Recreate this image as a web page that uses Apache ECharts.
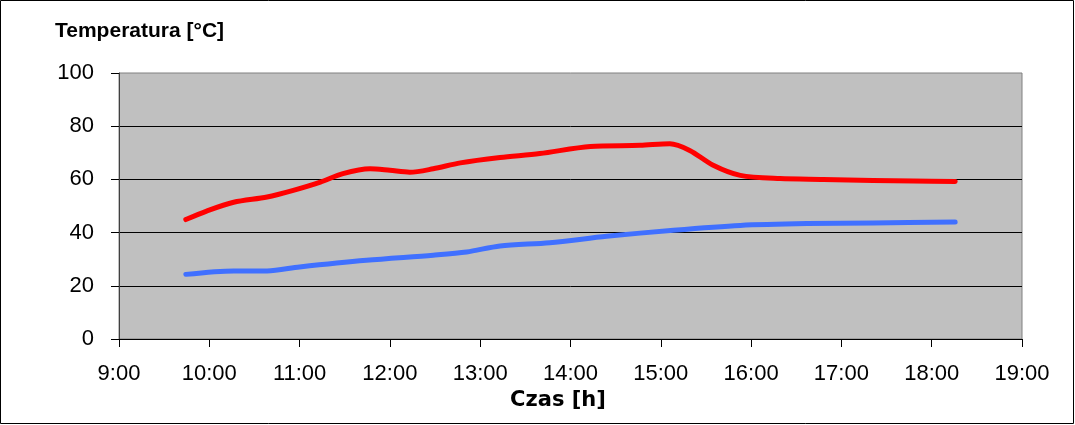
<!DOCTYPE html>
<html>
<head>
<meta charset="utf-8">
<script src="https://cdn.jsdelivr.net/npm/echarts@6/dist/echarts.min.js"></script>
<style>
html,body{margin:0;padding:0;background:#fff;}
#chart{width:1075px;height:425px;}
</style>
</head>
<body>
<div id="chart"></div>
<script>
// Time in decimal hours, temperature in °C
const redTime = [9.74, 9.97, 10.27, 10.64, 10.93, 11.23, 11.48, 11.78, 12.0, 12.22, 12.48, 12.78, 13.22, 13.66, 14.22, 14.77, 15.10, 15.32, 15.58, 15.88, 16.32, 16.8, 17.35, 17.8, 18.26];
const redVal  = [44.9, 48.1, 51.4, 53.4, 55.9, 59.0, 62.2, 64.0, 63.4, 62.7, 64.0, 66.2, 68.2, 69.7, 72.4, 72.8, 73.4, 70.9, 65.3, 61.5, 60.3, 60.0, 59.6, 59.4, 59.2];
const blueTime = [9.74, 10.27, 10.64, 11.0, 11.74, 12.48, 12.85, 13.22, 13.77, 14.40, 15.14, 15.88, 16.62, 17.35, 18.26];
const blueVal  = [24.3, 25.6, 25.6, 27.1, 29.6, 31.5, 32.7, 35.0, 36.2, 38.6, 40.9, 42.7, 43.4, 43.6, 44.0];
const xMin = 9, xMax = 19, xStep = 1;
const yMin = 0, yMax = 100, yStep = 20;
const yTitle = 'Temperatura [°C]';
const xTitle = 'Czas [h]';

const FONT = "'Liberation Sans', Arial, sans-serif";
const chart = echarts.init(document.getElementById('chart'), null, {renderer: 'canvas'});
chart.setOption({
  animation: false,
  backgroundColor: '#ffffff',
  title: {
    text: yTitle, left: 55, top: 21, padding: 0,
    textStyle: {fontFamily: FONT, fontSize: 21, fontWeight: 'bold', color: '#000'}
  },
  graphic: [{
    type: 'rect', shape: {x: 0.5, y: 0.5, width: 1073, height: 423},
    style: {fill: 'none', stroke: '#000', lineWidth: 1}, z: 100
  }],
  grid: {
    left: 119, right: 53, top: 73, bottom: 86,
    show: true, backgroundColor: '#C0C0C0', borderColor: '#808080', borderWidth: 1
  },
  xAxis: {
    type: 'value', min: xMin, max: xMax, interval: xStep,
    name: xTitle, nameLocation: 'middle', nameGap: 50,
    nameTextStyle: {fontFamily: "'DejaVu Sans', sans-serif", fontSize: 21, fontWeight: 'bold', color: '#000', padding: [0, 25, 0, 0]},
    axisLine: {show: true, onZero: false, lineStyle: {color: '#000', width: 1}},
    axisTick: {show: true, inside: false, length: 8, lineStyle: {color: '#000'}},
    axisLabel: {margin: 24, fontFamily: FONT, fontSize: 22, color: '#000',
      formatter: v => Math.round(v) + ':00'},
    splitLine: {show: false}
  },
  yAxis: {
    type: 'value', min: yMin, max: yMax, interval: yStep,
    axisLine: {show: true, lineStyle: {color: '#404040', width: 1}},
    axisTick: {show: true, inside: false, length: 8, lineStyle: {color: '#000'}},
    axisLabel: {margin: 25, fontFamily: FONT, fontSize: 22, color: '#000'},
    splitLine: {show: true, showMinLine: false, showMaxLine: false, lineStyle: {color: '#000', width: 1}}
  },
  series: [
    {
      type: 'line', smooth: 0.3, symbol: 'none',
      data: redTime.map((t, i) => [t, redVal[i]]),
      lineStyle: {color: '#FF0000', width: 5, cap: 'round', join: 'round'}
    },
    {
      type: 'line', smooth: 0.3, symbol: 'none',
      data: blueTime.map((t, i) => [t, blueVal[i]]),
      lineStyle: {color: '#4070FF', width: 5, cap: 'round', join: 'round'}
    }
  ]
});
</script>
</body>
</html>
